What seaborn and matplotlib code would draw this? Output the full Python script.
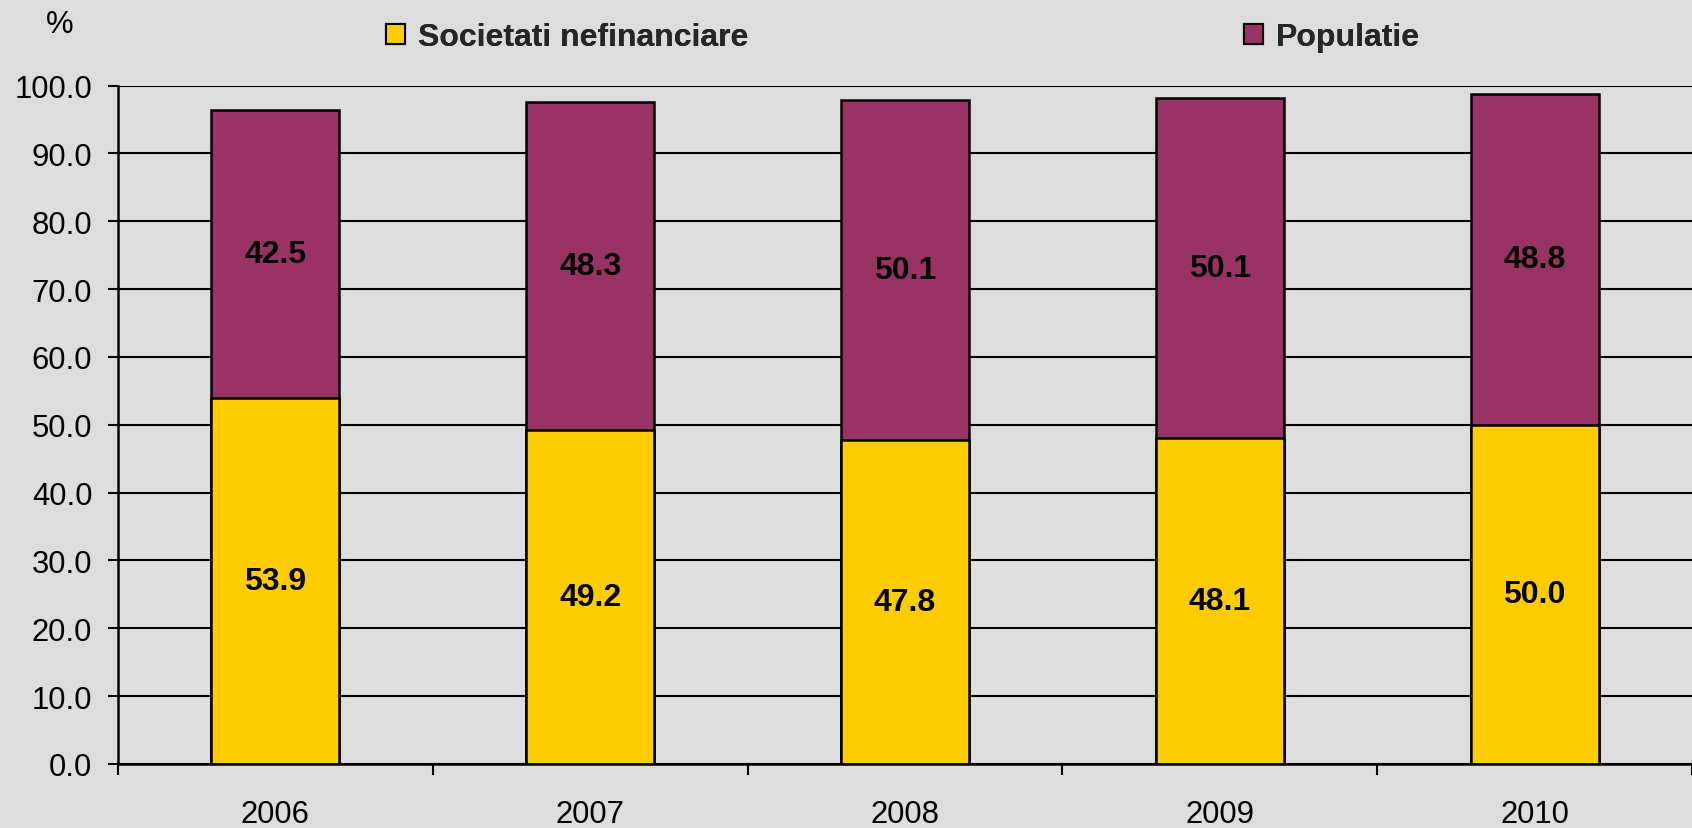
import matplotlib
matplotlib.use("Agg")
import matplotlib.pyplot as plt
from matplotlib.patches import Patch
from matplotlib.ticker import FixedLocator
import seaborn as sns
import pandas as pd
import numpy as np

years = ["2006", "2007", "2008", "2009", "2010"]
societati = [53.9, 49.2, 47.8, 48.1, 50.0]
populatie = [42.5, 48.3, 50.1, 50.1, 48.8]
series_names = ["Societati nefinanciare", "Populatie"]
y_ticks = [0, 10, 20, 30, 40, 50, 60, 70, 80, 90, 100]

YELLOW = "#FFCC00"
PURPLE = "#993366"
BG = "#DDDDDD"

sns.set_style("white")
plt.rcParams["font.family"] = ["Liberation Sans", "DejaVu Sans"]

df = pd.DataFrame({"year": years, "soc": societati, "pop": populatie})
df["total"] = df["soc"] + df["pop"]

fig = plt.figure(figsize=(16.92, 8.29), dpi=100, facecolor=BG)
ax = fig.add_axes([118 / 1692, 1 - 765 / 829, 1 - 118 / 1692, (765 - 86.5) / 829])
ax.set_facecolor(BG)

sns.barplot(data=df, x="year", y="total", color=PURPLE, saturation=1, width=0.406,
            edgecolor="black", linewidth=1.8, ax=ax, zorder=3)
sns.barplot(data=df, x="year", y="soc", color=YELLOW, saturation=1, width=0.406,
            edgecolor="black", linewidth=1.8, ax=ax, zorder=4)

ax.set_xlim(-0.5, len(years) - 0.5)
ax.set_ylim(0, 100)
ax.yaxis.set_major_locator(FixedLocator(y_ticks))
ax.set_yticklabels([f"{v:.1f}" for v in y_ticks])
ax.grid(axis="y", color="black", linewidth=1.5, zorder=0)
ax.set_axisbelow(True)
ax.set_xlabel("")
ax.set_ylabel("")

for s in ["top", "right"]:
    ax.spines[s].set_visible(False)
for s in ["left", "bottom"]:
    ax.spines[s].set_color("black")
    ax.spines[s].set_linewidth(1.8)
    ax.spines[s].set_zorder(5)

ax.tick_params(axis="y", length=7.5, width=1.5, color="black", pad=11,
               labelsize=22.3, labelcolor="black", left=True)
ax.tick_params(axis="x", which="major", length=0, pad=25, labelsize=22.3, labelcolor="black")
ax.xaxis.set_minor_locator(FixedLocator(np.arange(-0.5, len(years), 1.0)))
ax.tick_params(axis="x", which="minor", length=8, width=1.5, color="black", bottom=True)

for i, (s, p) in enumerate(zip(societati, populatie)):
    ax.text(i, s / 2, f"{s:.1f}", ha="center", va="center", fontsize=23,
            fontweight="bold", color="black", zorder=6)
    ax.text(i, s + p / 2, f"{p:.1f}", ha="center", va="center", fontsize=23,
            fontweight="bold", color="black", zorder=6)

fig.text(60 / 1692, 1 - 25 / 829, "%", ha="center", va="center", fontsize=22.3, color="black")

handles = [Patch(facecolor=YELLOW, edgecolor="black", linewidth=1.5),
           Patch(facecolor=PURPLE, edgecolor="black", linewidth=1.5)]
xs = [386 / 1692, 1244 / 1692]
for h, name, x in zip(handles, series_names, xs):
    leg = fig.legend([h], [name], loc="center left", bbox_to_anchor=(x, 1 - 38 / 829),
                     frameon=False, borderpad=0, borderaxespad=0, handlelength=0.6,
                     handleheight=0.6, handletextpad=0.4,
                     prop={"size": 23, "weight": "bold"})
    fig.add_artist(leg)

fig.savefig("out.png", dpi=100, facecolor=BG)
